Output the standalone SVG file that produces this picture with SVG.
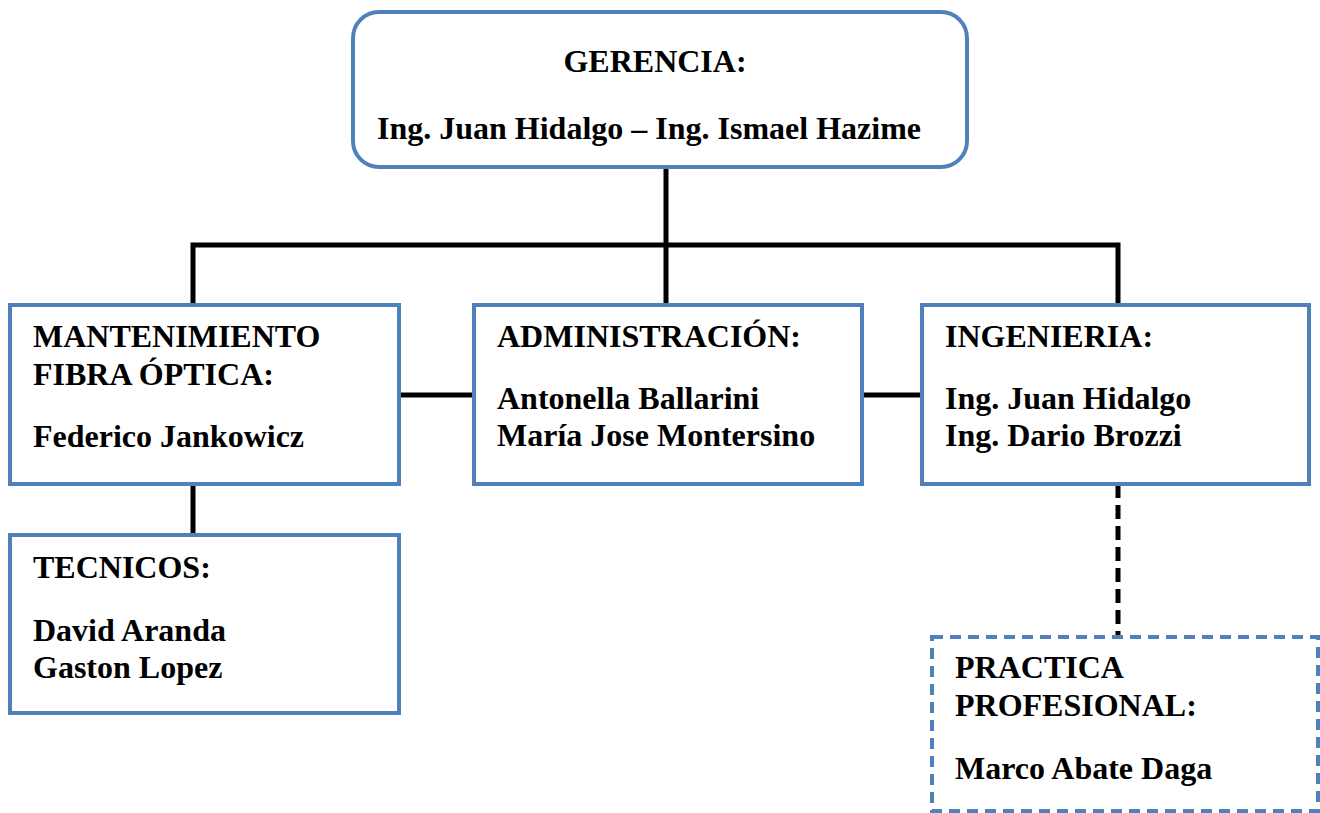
<svg xmlns="http://www.w3.org/2000/svg" width="1320" height="813" viewBox="0 0 1320 813">
<style>
.box{fill:#ffffff;stroke:#4f81bd;stroke-width:4}
.dash{stroke-dasharray:11 7}
.ln{stroke:#000;stroke-width:5;fill:none}
.dl{stroke-dasharray:14 7}
text{font-family:"Liberation Serif","Times New Roman",serif;font-weight:bold;font-size:32px;fill:#000}
</style>
<rect width="1320" height="813" fill="#ffffff"/>
<g id="connectors">
<line class="ln" x1="666" y1="167" x2="666" y2="305"/>
<polyline class="ln" points="193,305 193,245 1118,245 1118,305"/>
<line class="ln" x1="399" y1="395" x2="474" y2="395"/>
<line class="ln" x1="862" y1="395" x2="922" y2="395"/>
<line class="ln" x1="193" y1="484" x2="193" y2="535"/>
<line class="ln dl" x1="1118" y1="484" x2="1118" y2="637"/>
</g>
<g id="gerencia">
<rect class="box" x="353" y="12" width="614" height="155" rx="26"/>
<text x="655" y="72" text-anchor="middle">GERENCIA:</text>
<text x="649" y="139" text-anchor="middle">Ing. Juan Hidalgo – Ing. Ismael Hazime</text>
</g>
<g id="mantenimiento">
<rect class="box" x="10" y="305" width="389" height="179"/>
<text x="33" y="347">MANTENIMIENTO</text>
<text x="33" y="385">FIBRA ÓPTICA:</text>
<text x="33" y="447">Federico Jankowicz</text>
</g>
<g id="administracion">
<rect class="box" x="474" y="305" width="388" height="179"/>
<text x="497" y="347">ADMINISTRACIÓN:</text>
<text x="497" y="409">Antonella Ballarini</text>
<text x="497" y="446">María Jose Montersino</text>
</g>
<g id="ingenieria">
<rect class="box" x="922" y="305" width="387" height="179"/>
<text x="945" y="347">INGENIERIA:</text>
<text x="945" y="409">Ing. Juan Hidalgo</text>
<text x="945" y="446">Ing. Dario Brozzi</text>
</g>
<g id="tecnicos">
<rect class="box" x="10" y="535" width="389" height="178"/>
<text x="33" y="578">TECNICOS:</text>
<text x="33" y="641">David Aranda</text>
<text x="33" y="678">Gaston Lopez</text>
</g>
<g id="practica">
<rect class="box dash" x="932" y="637" width="386" height="174"/>
<text x="955" y="678">PRACTICA</text>
<text x="955" y="716">PROFESIONAL:</text>
<text x="955" y="779">Marco Abate Daga</text>
</g>
</svg>
